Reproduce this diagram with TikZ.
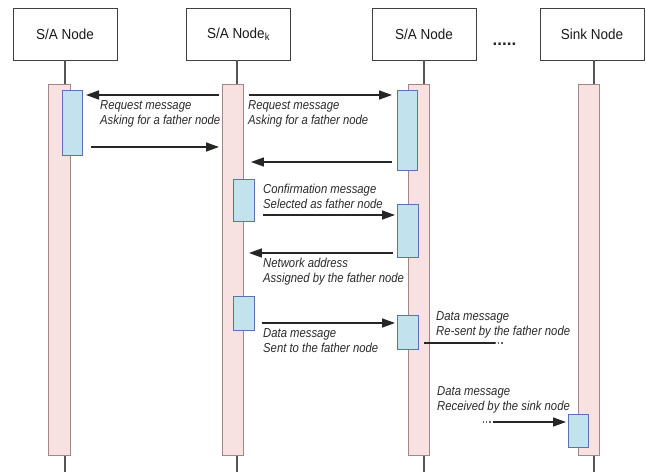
\documentclass[tikz,border=0pt]{standalone}
\usepackage{fontspec}
\setmainfont{Liberation Sans}
\newfontfamily\lblfont[FakeStretch=0.87]{Liberation Sans}
\newfontfamily\hdrfont[FakeStretch=0.93]{Liberation Sans}
\usetikzlibrary{arrows.meta}
\definecolor{pinkfill}{HTML}{F8E1E1}
\definecolor{pinkdraw}{HTML}{A88585}
\definecolor{bluefill}{HTML}{C2E2EE}
\definecolor{bluedraw}{HTML}{5A72B5}
\definecolor{linegray}{HTML}{555555}
\definecolor{txt}{HTML}{2A2A2A}
\begin{document}
\begin{tikzpicture}[x=1pt,y=-1pt,
  header/.style={draw=black!75, line width=0.8pt, fill=white, minimum width=104pt,
    minimum height=52pt, font=\hdrfont\fontsize{14.5}{17}\selectfont, text=black!90, inner sep=0pt},
  life/.style={draw=linegray, line width=1.3pt},
  pinkbar/.style={draw=pinkdraw, fill=pinkfill, line width=0.9pt, anchor=north west, inner sep=0pt},
  bluebar/.style={draw=bluedraw, fill=bluefill, line width=1pt, anchor=north west, inner sep=0pt},
  msg/.style={draw=black!85, line width=1.5pt, -{Triangle[length=13pt,width=9pt]}},
  plain/.style={draw=black!85, line width=1.5pt},
  dotline/.style={draw=black!60, line width=1.2pt, dotted},
  lbl/.style={font=\lblfont\fontsize{13}{15}\selectfont\itshape, text=txt, align=left, anchor=west, inner sep=0pt}]
\useasboundingbox (0,0) rectangle (646,472);

% headers
\node[header] (h1) at (65,34) {S/A Node};
\node[header] (h2) at (238.5,34) {S/A Node\textsubscript{k}};
\node[header] (h3) at (424,34) {S/A Node};
\node[header] (h4) at (592,34) {Sink Node};
\node[font=\fontsize{17}{17}\selectfont\bfseries, text=black!85, anchor=base, inner sep=0pt] (dots) at (504.5,45) {.....};

% lifelines
\coordinate (e1) at (65,472);
\coordinate (e2) at (237,472);
\coordinate (e3) at (424,472);
\coordinate (e4) at (594,472);
\draw[life] (h1.south -| e1) -- (e1);
\draw[life] (h2.south -| e2) -- (e2);
\draw[life] (h3.south -| e3) -- (e3);
\draw[life] (h4.south -| e4) -- (e4);

% activation bars
\node[pinkbar, minimum width=22pt, minimum height=371pt] (p1) at (48,84) {};
\node[pinkbar, minimum width=21pt, minimum height=371pt] (p2) at (222,84) {};
\node[pinkbar, minimum width=21pt, minimum height=371pt] (p3) at (408,84) {};
\node[pinkbar, minimum width=21pt, minimum height=371pt] (p4) at (578,84) {};

\node[bluebar, minimum width=20pt, minimum height=65pt] (b1) at (62,90) {};
\node[bluebar, minimum width=20pt, minimum height=80pt] (b3a) at (397,90) {};
\node[bluebar, minimum width=21pt, minimum height=42pt] (b2a) at (233,179) {};
\node[bluebar, minimum width=21pt, minimum height=53pt] (b3b) at (397,204) {};
\node[bluebar, minimum width=21pt, minimum height=34pt] (b2b) at (233,296) {};
\node[bluebar, minimum width=21pt, minimum height=34pt] (b3c) at (397,315) {};
\node[bluebar, minimum width=20pt, minimum height=33pt] (b4) at (568,414) {};

% message levels
\coordinate (y1) at (0,95);
\coordinate (y3) at (0,147);
\coordinate (y4) at (0,162);
\coordinate (y5) at (0,215);
\coordinate (y6) at (0,253);
\coordinate (y7) at (0,323);
\coordinate (y8) at (0,343);
\coordinate (y9) at (0,422);

% messages
\draw[msg, shorten <=3pt, shorten >=3pt] (p2.west |- y1) -- (b1.east |- y1);
\draw[msg, shorten <=5pt, shorten >=5pt] (p2.east |- y1) -- (b3a.west |- y1);
\draw[msg, shorten <=8pt, shorten >=3pt] (b1.east |- y3) -- (p2.west |- y3);
\draw[msg, shorten <=5pt, shorten >=7pt] (b3a.west |- y4) -- (p2.east |- y4);
\draw[msg, shorten <=8pt, shorten >=2pt] (b2a.east |- y5) -- (b3b.west |- y5);
\draw[msg, shorten <=4pt, shorten >=5pt] (b3b.west |- y6) -- (p2.east |- y6);
\draw[msg, shorten <=7pt, shorten >=2pt] (b2b.east |- y7) -- (b3c.west |- y7);

\coordinate (r1) at (495,343);
\coordinate (r2) at (504,343);
\draw[plain, shorten <=5pt] (b3c.east |- y8) -- (r1);
\draw[dotline] (r1) -- (r2);

\coordinate (s1) at (483,422);
\coordinate (s2) at (493,422);
\draw[dotline] (s1) -- (s2);
\draw[msg, shorten >=2pt] (s2) -- (b4.west |- y9);

% labels
\node[lbl] (l1) at (100,114) {Request message\\Asking for a father node};
\node[lbl] (l2) at (248,114) {Request message\\Asking for a father node};
\node[lbl] (l3) at (263,196) {Confirmation message\\Selected as father node};
\node[lbl] (l4) at (263,272) {Network address\\Assigned by the father node};
\node[lbl] (l5) at (263,341) {Data message\\Sent to the father node};
\node[lbl] (l6) at (436,325) {Data message\\Re-sent by the father node};
\node[lbl] (l7) at (437,400) {Data message\\Received by the sink node};
\end{tikzpicture}
\end{document}
